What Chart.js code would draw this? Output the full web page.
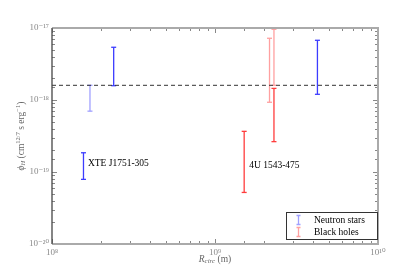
<!DOCTYPE html>
<html><head><meta charset="utf-8">
<script src="https://cdn.jsdelivr.net/npm/chart.js@4"></script>
<style>html,body{margin:0;padding:0;background:#fff}#wrap{width:420px;height:280px;position:relative}</style>
</head><body><div id="wrap"><canvas id="c"></canvas></div>
<script>
// ---- data ----
const rCirc   = [1.71e8, 2.39e8, 1.56e8, 1.51e9, 2.16e9, 2.30e9, 2.30e9, 4.25e9];
const phiLow  = [7.0e-19, 1.58e-18, 7.9e-20, 5.2e-20, 9.3e-19, 1.6e-18, 2.64e-19, 1.2e-18];
const phiHigh = [1.6e-18, 5.4e-18, 1.85e-19, 3.67e-19, 7.2e-18, 9.6e-18, 1.45e-18, 6.75e-18];
const kind    = ['NS','NS','NS','BH','BH','BH','BH','NS'];
const faded   = [true, false, false, false, true, true, false, false];
const thresholdPhi = 1.6e-18;
const xRange = [1e8, 1e10];
const yRange = [1e-20, 1e-17];
const legendLabels = ['Neutron stars', 'Black holes'];
const annoText = ['XTE J1751-305', '4U 1543-475'];
const annoX = [1.66e8, 1.62e9];
const annoY = [1.33e-19, 1.23e-19];

const COL = {NS:['#3c3cff','#a0a0ff'], BH:['#ff3c3c','#ffa0a0']};
const SERIF = '"Liberation Serif","DejaVu Serif",serif';
const SUP = {'0':'⁰','1':'¹','2':'²','3':'³','4':'⁴','5':'⁵','6':'⁶','7':'⁷','8':'⁸','9':'⁹','-':'⁻'};
function isMajor(v){const l=Math.log10(v);return Math.abs(l-Math.round(l))<1e-6;}
function powLabel(v){if(!isMajor(v))return '';const e=String(Math.round(Math.log10(v)));return '10'+e.split('').map(c=>SUP[c]).join('');}

const datasets = [];
for (let i=0;i<rCirc.length;i++){
  const c = COL[kind[i]][faded[i]?1:0];
  datasets.push({data:[{x:rCirc[i],y:phiLow[i]},{x:rCirc[i],y:phiHigh[i]}],
    borderColor:c, borderWidth:1.3, showLine:true, fill:false,
    pointStyle:'line', pointRadius:2.5, pointHoverRadius:2.5, pointRotation:0,
    pointBorderColor:c, pointBorderWidth:1.3, order:1});
}
datasets.push({data:[{x:xRange[0],y:thresholdPhi},{x:xRange[1],y:thresholdPhi}],
  borderColor:'#333', borderWidth:1, borderDash:[4,3], pointRadius:0, showLine:true, order:0});

function drawRich(ctx, parts, x, y, align){
  // parts: [text, size, style, dy]
  let w=0; parts.forEach(p=>{ctx.font=`${p[2]||''} ${p[1]}px ${SERIF}`;w+=ctx.measureText(p[0]).width;});
  let cx = align==='center'? x-w/2 : x;
  parts.forEach(p=>{ctx.font=`${p[2]||''} ${p[1]}px ${SERIF}`;ctx.fillText(p[0],cx,y+(p[3]||0));cx+=ctx.measureText(p[0]).width;});
}

const deco = {
  id:'deco',
  afterDraw(chart){
    const ctx=chart.ctx, a=chart.chartArea, xs=chart.scales.x, ys=chart.scales.y;
    ctx.save();
    // ticks inward on all sides
    ctx.strokeStyle='#888'; ctx.lineWidth=1;
    xs.ticks.forEach(t=>{const px=Math.round(xs.getPixelForValue(t.value))+0.5; const L=isMajor(t.value)?5:3;
      ctx.beginPath();ctx.moveTo(px,a.bottom);ctx.lineTo(px,a.bottom-L);ctx.moveTo(px,a.top);ctx.lineTo(px,a.top+L);ctx.stroke();});
    ys.ticks.forEach(t=>{const py=Math.round(ys.getPixelForValue(t.value))+0.5; const L=isMajor(t.value)?5:3;
      ctx.beginPath();ctx.moveTo(a.left,py);ctx.lineTo(a.left+L,py);ctx.moveTo(a.right,py);ctx.lineTo(a.right-L,py);ctx.stroke();});
    // frame
    ctx.strokeStyle='#aaa'; ctx.lineWidth=2;
    ctx.beginPath();ctx.moveTo(a.left,a.top);ctx.lineTo(a.right,a.top);ctx.lineTo(a.right,a.bottom);ctx.lineTo(a.left,a.bottom);ctx.stroke();
    ctx.strokeStyle='#444'; ctx.lineWidth=1.3;
    ctx.beginPath();ctx.moveTo(a.left,a.top);ctx.lineTo(a.left,a.bottom);ctx.stroke();
    // annotations
    ctx.fillStyle='#000'; ctx.textBaseline='middle'; ctx.textAlign='left';
    ctx.font=`9.5px ${SERIF}`;
    for(let i=0;i<annoText.length;i++) ctx.fillText(annoText[i], xs.getPixelForValue(annoX[i]), ys.getPixelForValue(annoY[i]));
    // axis titles
    ctx.fillStyle='#666'; ctx.textBaseline='middle';
    drawRich(ctx,[['R',9.5,'italic'],['circ',7,'italic',2],[' (m)',9.5,'']],(a.left+a.right)/2,259,'center');
    ctx.save(); ctx.translate(21,(a.top+a.bottom)/2); ctx.rotate(-Math.PI/2);
    drawRich(ctx,[['ϕ',9.5,'italic'],['H',6.5,'italic',2],[' (cm',9.5,''],['12/7',6.5,'',-3],[' s erg',9.5,''],['−1',6.5,'',-3],[')',9.5,'']],0,0,'center');
    ctx.restore();
    // legend
    const bx=286, by=212, bw=a.right-bx, bh=28;
    ctx.fillStyle='#fff'; ctx.fillRect(bx,by,bw,bh);
    ctx.strokeStyle='#333'; ctx.lineWidth=1; ctx.strokeRect(bx+0.5,by+0.5,bw-1,bh-1);
    const rows=[by+8,by+20];
    ['NS','BH'].forEach((k,j)=>{
      const c=COL[k][1], mx=298.5, y=rows[j];
      ctx.strokeStyle=c; ctx.lineWidth=1.3;
      ctx.beginPath();ctx.moveTo(mx,y-4.5);ctx.lineTo(mx,y+4.5);
      ctx.moveTo(mx-2,y-4.5);ctx.lineTo(mx+2,y-4.5);ctx.moveTo(mx-2,y+4.5);ctx.lineTo(mx+2,y+4.5);ctx.stroke();
      ctx.fillStyle='#000'; ctx.font=`9.5px ${SERIF}`; ctx.textAlign='left'; ctx.textBaseline='middle';
      ctx.fillText(legendLabels[j],314,y+0.5);
    });
    ctx.restore();
  }
};

new Chart(document.getElementById('c'),{
  type:'scatter',
  data:{datasets},
  options:{
    responsive:true, maintainAspectRatio:false, animation:false,
    layout:{padding:{top:28,right:42,left:0,bottom:0}},
    plugins:{legend:{display:false},tooltip:{enabled:false}},
    scales:{
      x:{type:'logarithmic',min:xRange[0],max:xRange[1],
        grid:{display:false,drawTicks:false},border:{display:false},
        ticks:{autoSkip:false,maxRotation:0,padding:3,color:'#888',font:{family:SERIF,size:9},callback:v=>powLabel(v)},
        afterFit:s=>{s.height=36;}},
      y:{type:'logarithmic',min:yRange[0],max:yRange[1],
        grid:{display:false,drawTicks:false},border:{display:false},
        ticks:{autoSkip:false,padding:3,color:'#888',font:{family:SERIF,size:9},callback:v=>powLabel(v)},
        afterFit:s=>{s.width=52;}}
    }
  },
  plugins:[deco]
});
</script></body></html>
